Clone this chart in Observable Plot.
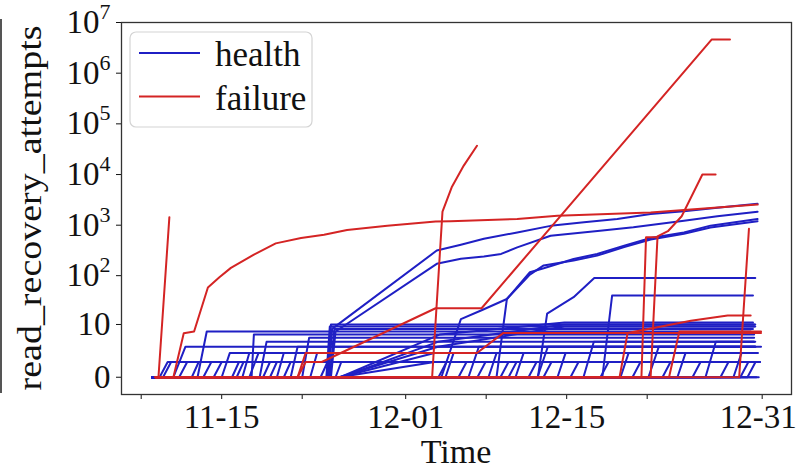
<!DOCTYPE html>
<html><head><meta charset="utf-8">
<script src="https://cdn.jsdelivr.net/npm/d3@7"></script>
<script src="https://cdn.jsdelivr.net/npm/@observablehq/plot@0.6"></script>
<style>
body{margin:0;background:#fff;}
#wrap{position:relative;width:797px;height:470px;}
#edge{position:absolute;left:0;top:19px;width:2px;height:374px;background:#555;}
</style></head><body><div id="wrap"><div id="edge"></div></div>
<script>
// ---- axis / tick data ----
const BASE_DATE = Date.UTC(2021, 10, 8);            // day 0 = 11-08
const xTickDays   = [0, 7, 14, 23, 30, 37, 44, 54];
const xTickLabels = ["", "11-15", "", "12-01", "", "12-15", "", "12-31"];
const yTicks      = [0, 10, 1e2, 1e3, 1e4, 1e5, 1e6, 1e7];
const yTickLabels = ["0", "10", "10^2", "10^3", "10^4", "10^5", "10^6", "10^7"];
const seriesNames = ["health", "failure"];

const healthStart = 0.96;
const failureStart = 1.25;

// ---- health: simple step series (leave 0, reach level, stay flat) ----
const healthStepFrom  = [1.6, 1.9, 2.8, 3.3, 4.4, 4.9, 5.4, 6.3, 7.0, 7.9, 8.3, 8.8, 9.4, 9.6, 10.3, 10.6, 11.2, 11.8, 12.4, 13.0, 14.0, 14.7, 15.6, 16.1, 16.2, 16.4, 16.9,
  25.85, 26.46, 27.59, 28.46, 29.24, 30.2, 31.24, 31.94, 32.55, 33.68, 34.46, 34.98, 36.2, 37.33, 38.46, 39.94, 41.68, 42.72, 44.11, 45.33, 46.63, 47.94, 49.07, 50.37, 51.5, 52.1, 52.72];
const healthStepTo    = [2.3, 2.6, 3.85, 4.0, 5.0, 5.7, 6.1, 7.0, 7.7, 8.5, 8.9, 9.4, 10.2, 9.8, 10.9, 11.2, 11.8, 12.4, 13.0, 13.6, 14.6, 15.3, 16.2, 16.4, 16.5, 16.8, 17.4,
  26.55, 27.16, 28.29, 29.36, 29.94, 30.9, 31.94, 32.64, 33.25, 34.38, 35.36, 35.68, 36.9, 38.03, 39.36, 40.64, 42.38, 43.42, 45.01, 46.03, 47.33, 48.64, 49.97, 51.07, 52.2, 52.8, 53.42];
const healthStepLevel = [1, 1, 3, 1, 1, 7, 1, 1, 2, 1, 1, 2, 2, 6, 4, 1, 1, 2, 1, 3, 5, 2, 1, 9, 10, 8, 1,
  1, 2, 1, 3, 1, 2, 1, 1, 2, 1, 3, 1, 2, 1, 4, 1, 2, 1, 3, 1, 2, 1, 4, 1, 2, 1, 1];
const healthStepEnd   = [53.7, 53.6, 53.9, 53.5, 53.6, 53.0, 53.5, 53.5, 53.6, 53.4, 53.6, 53.5, 53.6, 53.3, 53.4, 53.5, 53.6, 53.5, 53.7, 53.4, 53.3, 53.5, 53.6, 53.4, 53.3, 53.2, 53.6,
  53.8, 53.5, 53.6, 53.4, 53.7, 53.5, 53.6, 53.3, 53.5, 53.7, 53.4, 53.6, 53.5, 53.6, 53.3, 53.7, 53.5, 53.6, 53.4, 53.7, 53.5, 53.6, 53.3, 53.7, 53.6, 53.8, 53.8];
const healthZeroEnd   = [53.5, 53.7];

// ---- health: multi-point series ----
const healthA_days = [0.96, 16.3, 16.6, 25.7, 27.8, 29.8, 32.7, 35.6, 38.5, 41.4, 44.3, 47.2, 50.1, 53.6];
const healthA_vals = [0, 0, 8, 315, 410, 540, 720, 970, 1140, 1330, 1660, 1880, 2200, 2640];
const healthB_days = [0.96, 16.5, 16.9, 25.7, 27.8, 29.8, 31.3, 32.7, 35.6, 39.9, 42.8, 47.2, 50.1, 53.6];
const healthB_vals = [0, 0, 7, 172, 217, 240, 270, 365, 620, 780, 910, 1230, 1500, 1850];
const healthC_days = [0.96, 26.1, 27.8, 29.6, 31.8, 33.8, 35.0, 37.6, 39.65, 42.0, 44.3, 47.2, 49.5, 53.6];
const healthC_vals = [0, 0, 13, 20, 34, 117, 140, 215, 270, 395, 560, 720, 980, 1320];
const healthD_days = [0.96, 30.9, 31.8, 33.8, 35.0, 37.6, 39.65, 42.0, 44.3, 47.2, 49.5, 53.6];
const healthD_vals = [0, 0, 34, 105, 160, 200, 250, 370, 520, 680, 900, 1200];
const healthE_days = [0.96, 34.5, 35.3, 37.6, 39.4, 53.4];
const healthE_vals = [0, 0, 17, 37, 90, 90];
const healthF_days = [0.96, 40.1, 40.95, 53.2];
const healthF_vals = [0, 0, 40, 40];
const healthG_days = [0.96, 17.2, 25.5, 53.6];
const healthG_vals = [0, 0, 1, 1];
const healthH_days = [0.96, 17.3, 25.5, 53.5];
const healthH_vals = [0, 0, 2, 2];
const healthI_days = [0.96, 17.2, 25.8, 36.8, 53.3];
const healthI_vals = [0, 0, 3, 9, 9];
const healthJ_days = [0.96, 17.4, 25.8, 36.8, 53.4];
const healthJ_vals = [0, 0, 4, 10, 10];
const healthK_days = [0.96, 17.3, 26.0, 36.8, 53.2];
const healthK_vals = [0, 0, 6, 11, 11];

// ---- failure series ----
const failureA_days = [failureStart, 1.5, 2.45];
const failureA_vals = [0, 0, 1440];
const failureB_days = [failureStart, 2.8, 3.7, 4.6, 5.8, 6.8, 7.8, 9.8, 11.7, 13.9, 15.9, 17.9, 21.4, 25.6, 26.9, 32.7, 36.2, 44.3, 53.6];
const failureB_vals = [0, 0, 6.4, 7, 58, 93, 143, 262, 437, 560, 645, 805, 980, 1180, 1200, 1330, 1540, 1790, 2550];
const failureC_days = [failureStart, 13.6, 14.3, 15.7, 25.6, 29.6, 49.6, 51.2];
const failureC_vals = [0, 0, 1, 1, 22, 22, 4.6e6, 4.6e6];
const failureD_days = [failureStart, 25.3, 26.2, 27.0, 28.05, 29.2];
const failureD_vals = [0, 0, 1850, 5600, 15000, 37000];
const failureE_days = [failureStart, 44.3, 44.9, 45.8, 47.0, 48.8, 49.95];
const failureE_vals = [0, 0, 600, 760, 1500, 1e4, 1e4];
const failureF_days = [failureStart, 43.5, 43.9, 44.9];
const failureF_vals = [0, 0, 580, 580];
const failureG_days = [failureStart, 52.0, 52.85];
const failureG_vals = [0, 0, 850];
const failureH_days = [failureStart, 45.9, 46.8, 53.9];
const failureH_vals = [0, 0, 7, 7];
const failureI_days = [failureStart, 13.6, 14.3, 29.2, 31.5, 53.9];
const failureI_vals = [0, 0, 2, 2, 6.5, 6.5];
const failureJ_days = [failureStart, 41.6, 42.3, 47.8, 51.0, 53.0];
const failureJ_vals = [0, 0, 6.5, 12, 15.5, 15.5];

// ---- build table ----
const day = d => new Date(BASE_DATE + d * 864e5);
const rows = [];
let sid = 0;
function addSeries(cls, days, vals) {
  sid++;
  days.forEach((d, i) => rows.push({id: sid, cls, t: day(d), v: vals[i]}));
}
healthStepFrom.forEach((f, i) => addSeries("health",
  [healthStart, f, healthStepTo[i], healthStepEnd[i]],
  [0, 0, healthStepLevel[i], healthStepLevel[i]]));
healthZeroEnd.forEach(e => addSeries("health", [healthStart, e], [0, 0]));
[[healthA_days, healthA_vals], [healthB_days, healthB_vals], [healthC_days, healthC_vals],
 [healthD_days, healthD_vals], [healthE_days, healthE_vals], [healthF_days, healthF_vals],
 [healthG_days, healthG_vals], [healthH_days, healthH_vals], [healthI_days, healthI_vals],
 [healthJ_days, healthJ_vals], [healthK_days, healthK_vals]].forEach(([d, v]) => addSeries("health", d, v));
[[failureA_days, failureA_vals], [failureB_days, failureB_vals], [failureC_days, failureC_vals],
 [failureD_days, failureD_vals], [failureE_days, failureE_vals], [failureF_days, failureF_vals],
 [failureG_days, failureG_vals], [failureH_days, failureH_vals], [failureI_days, failureI_vals],
 [failureJ_days, failureJ_vals]].forEach(([d, v]) => addSeries("failure", d, v));

const BLUE = "#1f1fc4", RED = "#d42424";
const FONT = "'Liberation Serif','Times New Roman',serif";

const xLabelOf = new Map(xTickDays.map((d, i) => [d, xTickLabels[i]]));
const yLabelOf = new Map(yTicks.map((v, i) => [v, yTickLabels[i]]));

const chart = Plot.plot({
  width: 797, height: 470,
  marginLeft: 121, marginRight: 6, marginTop: 22, marginBottom: 76,
  style: {fontFamily: FONT, fontSize: "33px", background: "white", color: "#111"},
  x: {type: "utc", domain: [day(-1.713), day(56.55)], ticks: xTickDays.map(day),
      tickFormat: d => xLabelOf.get(Math.round((d - BASE_DATE) / 864e5)) ?? "",
      tickSize: 5, tickPadding: 5, label: null},
  y: {type: "symlog", constant: 1, domain: [-1.19, 1e7], ticks: yTicks,
      tickFormat: v => yLabelOf.get(v) ?? "", tickSize: 5, tickPadding: 6, label: null},
  marks: [
    Plot.line(rows.filter(r => r.cls === "health"), {x: "t", y: "v", z: "id", stroke: BLUE, strokeWidth: 2}),
    Plot.line(rows.filter(r => r.cls === "failure"), {x: "t", y: "v", z: "id", stroke: RED, strokeWidth: 2}),
    Plot.frame({stroke: "#333", strokeWidth: 1.3})
  ]
});
document.getElementById("wrap").appendChild(chart);

const svg = d3.select(chart);
svg.selectAll("text").each(function() {
  const t = d3.select(this);
  const m = /^10\^(\d)$/.exec(this.textContent);
  if (m) {
    t.text("10");
    t.append("tspan").attr("dy", "-14").attr("font-size", "22px").text(m[1]);
  }
  if (this.textContent === "12-31") t.attr("dx", -4);
});
// axis titles
svg.append("text").attr("x", 456).attr("y", 463).attr("text-anchor", "middle")
  .attr("font-family", FONT).attr("font-size", 34).attr("fill", "#111").text("Time");
svg.append("text").attr("transform", "translate(41,208) rotate(-90)").attr("text-anchor", "middle")
  .attr("font-family", FONT).attr("font-size", 34).attr("fill", "#111")
  .attr("textLength", 365).attr("lengthAdjust", "spacingAndGlyphs").text("read_recovery_attempts");
// legend
const lg = svg.append("g");
lg.append("rect").attr("x", 130).attr("y", 32).attr("width", 182).attr("height", 95).attr("rx", 6)
  .attr("fill", "white").attr("fill-opacity", 0.85).attr("stroke", "#d4d4d4").attr("stroke-width", 1.2);
seriesNames.forEach((name, i) => {
  const y = 53 + i * 43.5;
  lg.append("line").attr("x1", 139).attr("x2", 200).attr("y1", y).attr("y2", y)
    .attr("stroke", i === 0 ? BLUE : RED).attr("stroke-width", 2);
  lg.append("text").attr("x", 215).attr("y", y + 13).attr("text-anchor", "start")
    .attr("font-family", FONT).attr("font-size", 35).attr("fill", "#111").text(name);
});
</script></body></html>
